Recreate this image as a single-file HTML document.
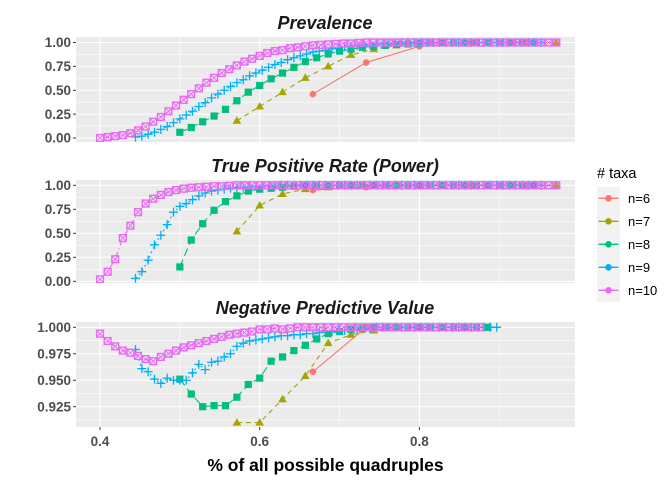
<!DOCTYPE html>
<html><head><meta charset="utf-8">
<style>
body{margin:0;background:#fff;}
svg text{font-family:"Liberation Sans",Arial,sans-serif;}
</style></head>
<body>
<svg id="chart" width="672" height="480" xmlns="http://www.w3.org/2000/svg"></svg>
<script>
const groups=["n=6","n=7","n=8","n=9","n=10"];
const colors=["#F8766D","#A3A500","#00BF7D","#00B0F6","#E76BF3"];
const totalQuads=[15,35,70,126,210];
const firstK=[10,20,35,56,84];
const stepK=[1,1,1,1,2];
const xTicks=[0.4,0.6,0.8];
const facetTitles=["Prevalence","True Positive Rate (Power)","Negative Predictive Value"];
const yTicksPrev=[0,0.25,0.5,0.75,1.0];
const yTickLabPrev=["0.00","0.25","0.50","0.75","1.00"];
const yTicksNpv=[0.925,0.95,0.975,1.0];
const yTickLabNpv=["0.925","0.950","0.975","1.000"];

const prev6=[0.46,0.79,0.96,1,1];
const prev7=[0.18,0.33,0.48,0.63,0.75,0.87,0.93,0.97,0.99,1,1,1,1,1,1];
const prev8=[0.06,0.11,0.17,0.23,0.30,0.39,0.48,0.55,0.62,0.68,0.74,0.80,0.84,0.88,0.91,0.93,0.95,0.96,0.97,0.98,0.985,0.99,0.995,1,1,1,1,1,1,1,1,1];
const prev9=[0.01,0.02,0.04,0.06,0.09,0.12,0.16,0.20,0.24,0.28,0.33,0.37,0.42,0.46,0.50,0.54,0.58,0.61,0.65,0.68,0.71,0.74,0.77,0.79,0.82,0.84,0.86,0.88,0.90,0.91,0.92,0.935,0.945,0.955,0.96,0.97,0.975,0.98,0.985,0.99,0.99,0.995,1,1,1,1,1,1,1,1,1,1,1,1,1,1,1,1,1,1,1,1,1,1,1];
const prev10=[0.00,0.01,0.02,0.03,0.05,0.08,0.12,0.17,0.22,0.28,0.34,0.40,0.46,0.52,0.58,0.63,0.68,0.72,0.76,0.80,0.83,0.86,0.89,0.91,0.92,0.94,0.95,0.96,0.97,0.975,0.98,0.985,0.99,0.99,0.995,1,1,1,1,1,1,1,1,1,1,1,1,1,1,1,1,1,1,1,1,1,1,1,1,1,1];

const tpr6=[0.95,0.98,1,1,1];
const tpr7=[0.52,0.79,0.91,0.96,0.98,0.99,1,1,1,1,1,1,1,1,1];
const tpr8=[0.15,0.43,0.60,0.74,0.83,0.89,0.94,0.96,0.97,0.98,0.99,0.995,1,1,1,1,1,1,1,1,1,1,1,1,1,1,1,1,1,1,1,1];
const tpr9=[0.03,0.10,0.22,0.38,0.48,0.59,0.72,0.78,0.81,0.85,0.89,0.92,0.94,0.95,0.96,0.97,0.975,0.98,0.985,0.99,0.99,0.995,0.995,1,1,1,1,1,1,1,1,1,1,1,1,1,1,1,1,1,1,1,1,1,1,1,1,1,1,1,1,1,1,1,1,1,1,1,1,1,1,1,1,1,1];
const tpr10=[0.02,0.10,0.23,0.45,0.58,0.72,0.81,0.86,0.90,0.93,0.95,0.965,0.975,0.98,0.985,0.99,0.99,0.995,1,1,1,1,1,1,1,1,1,1,1,1,1,1,1,1,1,1,1,1,1,1,1,1,1,1,1,1,1,1,1,1,1,1,1,1,1,1,1,1,1,1,1];

const npv6=[0.958,1.0];
const npv7=[0.910,0.910,0.932,0.954,0.985,0.993,0.997,1,1,1,1];
const npv8=[0.951,0.937,0.925,0.926,0.926,0.934,0.946,0.952,0.968,0.972,0.978,0.983,0.989,0.994,0.996,0.998,0.999,1,1,1,1,1,1,1,1,1,1,1];
const npv9=[0.979,0.961,0.958,0.951,0.947,0.952,0.950,0.950,0.950,0.957,0.965,0.960,0.967,0.968,0.972,0.975,0.982,0.985,0.987,0.988,0.989,0.990,0.991,0.992,0.992,0.993,0.993,0.994,0.994,0.995,0.996,0.996,0.997,0.997,0.998,0.998,0.999,0.999,1,1,1,1,1,1,1,1,1,1,1,1,1,1,1,1,1,1,1,1];
const npv10=[0.994,0.987,0.982,0.978,0.976,0.973,0.970,0.968,0.972,0.975,0.978,0.981,0.983,0.985,0.987,0.989,0.991,0.993,0.994,0.995,0.996,0.998,0.998,0.999,0.998,0.999,1,1,1,1,1,1,1,1,1,1,1,1,1,1,1,1,1,1,1,1,1,1,1,1,1];

const facetSeries=[[prev6,prev7,prev8,prev9,prev10],[tpr6,tpr7,tpr8,tpr9,tpr10],[npv6,npv7,npv8,npv9,npv10]];

const NS="http://www.w3.org/2000/svg";
const svg=document.getElementById("chart");
function mk(tag,attrs,parent){const e=document.createElementNS(NS,tag);for(const k in attrs)e.setAttribute(k,attrs[k]);(parent||svg).appendChild(e);return e;}
const PX0=76,PX1=575;
const xs=v=>100+(v-0.4)*798.5;
const panels=[
 {top:37,bot:142,yv0:0,yp0:138,yv1:1,yp1:42.5,ticks:yTicksPrev,labs:yTickLabPrev,minor:[0.125,0.375,0.625,0.875],titleY:29},
 {top:180,bot:283,yv0:0,yp0:281.3,yv1:1,yp1:185.3,ticks:yTicksPrev,labs:yTickLabPrev,minor:[0.125,0.375,0.625,0.875],titleY:172},
 {top:322,bot:427,yv0:0.925,yp0:406.7,yv1:1,yp1:327.3,ticks:yTicksNpv,labs:yTickLabNpv,minor:[0.9125,0.9375,0.9625,0.9875],titleY:314}
];
const dashes=["none","5,4","8,4","2,3","1,3,5,3"];

function marker(g,gi,x,y,c){
 if(gi===0)mk("circle",{cx:x,cy:y,r:3.3,fill:c},g);
 else if(gi===1)mk("polygon",{points:`${x},${y-4.5} ${x+4.3},${y+3} ${x-4.3},${y+3}`,fill:c},g);
 else if(gi===2)mk("rect",{x:x-3.6,y:y-3.6,width:7.2,height:7.2,fill:c},g);
 else if(gi===3){mk("path",{d:`M${x-4.5},${y}H${x+4.5}M${x},${y-4.5}V${y+4.5}`,stroke:c,"stroke-width":1.3,fill:"none"},g);}
 else{mk("rect",{x:x-3.4,y:y-3.4,width:6.8,height:6.8,stroke:c,"stroke-width":1.4,fill:"none"},g);
   mk("path",{d:`M${x-3.4},${y-3.4}L${x+3.4},${y+3.4}M${x+3.4},${y-3.4}L${x-3.4},${y+3.4}`,stroke:c,"stroke-width":0.9,fill:"none"},g);}
}

panels.forEach((p,pi)=>{
 const ys=v=>p.yp0+(v-p.yv0)*(p.yp1-p.yp0)/(p.yv1-p.yv0);
 const pg=mk("g",{});
 
 
 const t=mk("text",{x:325,y:p.titleY,"text-anchor":"middle","font-size":18,"font-weight":"bold","font-style":"italic",fill:"#1a1a1a"},pg);
 t.textContent=facetTitles[pi];
 
 
 const bg=mk("rect",{x:PX0,y:p.top,width:PX1-PX0,height:p.bot-p.top,fill:"#EBEBEB"},pg);
 
 
 p.minor.forEach(v=>mk("line",{x1:PX0,x2:PX1,y1:ys(v),y2:ys(v),stroke:"#fff","stroke-width":0.55},pg));
 [0.5,0.7,0.9].forEach(v=>mk("line",{x1:xs(v),x2:xs(v),y1:p.top,y2:p.bot,stroke:"#fff","stroke-width":0.55},pg));
 p.ticks.forEach((v,i)=>{
  mk("line",{x1:PX0,x2:PX1,y1:ys(v),y2:ys(v),stroke:"#fff","stroke-width":1.1},pg);
  mk("line",{x1:PX0-3,x2:PX0,y1:ys(v),y2:ys(v),stroke:"#333","stroke-width":1},pg);
  const l=mk("text",{x:PX0-5,y:ys(v)+4.7,"text-anchor":"end","font-size":13.5,"font-weight":"bold",fill:"#4D4D4D"},pg);
  l.textContent=p.labs[i];
  
  
 });
 xTicks.forEach(v=>mk("line",{x1:xs(v),x2:xs(v),y1:p.top,y2:p.bot,stroke:"#fff","stroke-width":1.1},pg));
 const cid="clip"+pi;
 const cp=mk("clipPath",{id:cid},pg);mk("rect",{x:PX0,y:p.top,width:PX1-PX0,height:p.bot-p.top},cp);
 const dg=mk("g",{"clip-path":`url(#${cid})`},pg);
 facetSeries[pi].forEach((vals,gi)=>{
  const sg=mk("g",{},dg);
  
  
  const pts=vals.map((v,i)=>[xs((firstK[gi]+i*stepK[gi])/totalQuads[gi]),ys(v)]);
  const ln=mk("polyline",{points:pts.map(q=>q.join(",")).join(" "),fill:"none",stroke:colors[gi],"stroke-width":1.1,"stroke-dasharray":dashes[gi]},sg);
  
  
  pts.forEach(q=>marker(sg,gi,q[0],q[1],colors[gi]));
 });
});
xTicks.forEach(v=>{
 mk("line",{x1:xs(v),x2:xs(v),y1:427,y2:430,stroke:"#333","stroke-width":1});
 const l=mk("text",{x:xs(v),y:446,"text-anchor":"middle","font-size":13.5,"font-weight":"bold",fill:"#4D4D4D"});
 l.textContent=v.toFixed(1);
 
 
});
const xt=mk("text",{x:325.5,y:471,"text-anchor":"middle","font-size":17.5,"font-weight":"bold",fill:"#000"});
xt.textContent="% of all possible quadruples";


const lg=mk("g",{});


const lt=mk("text",{x:597,y:178,"font-size":14.5,fill:"#000"},lg);
lt.textContent="# taxa";


mk("rect",{x:597,y:187,width:23,height:115,fill:"#F2F2F2"},lg);
groups.forEach((gname,gi)=>{
 const y=198.3+gi*23;
 const e=mk("g",{},lg);
 
 
 mk("line",{x1:598.5,x2:618.5,y1:y,y2:y,stroke:colors[gi],"stroke-width":1.3},e);
 mk("circle",{cx:608.5,cy:y,r:3.3,fill:colors[gi]},e);
 const tx=mk("text",{x:628,y:y+4.6,"font-size":13,fill:"#000"},e);
 tx.textContent=gname;
});
</script>
</body></html>
